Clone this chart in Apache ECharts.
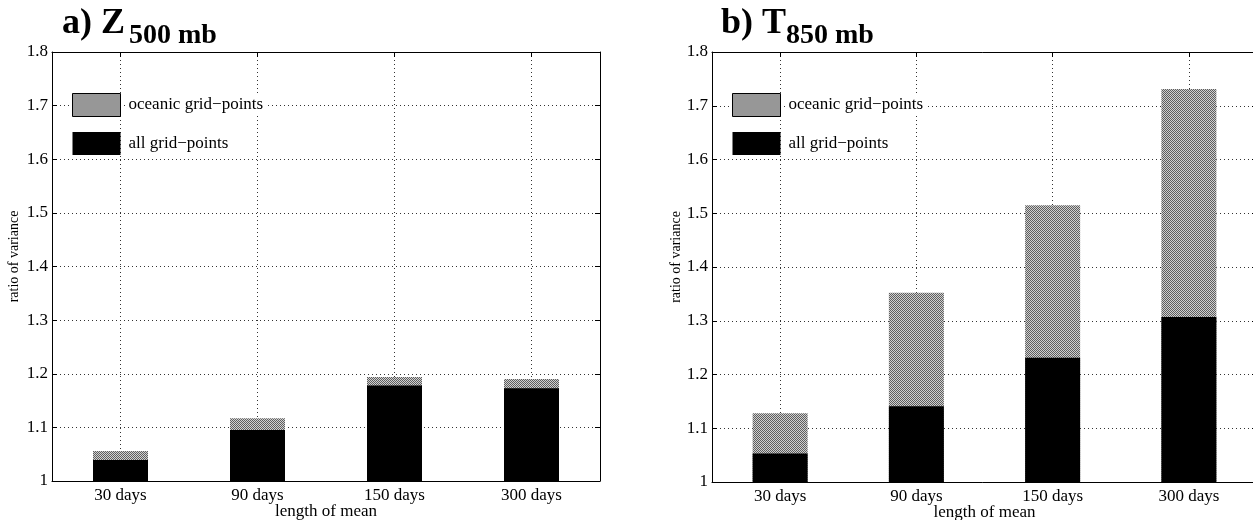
<!DOCTYPE html>
<html>
<head>
<meta charset="utf-8">
<script src="https://cdn.jsdelivr.net/npm/echarts@6/dist/echarts.min.js"></script>
<style>
  html, body { margin: 0; padding: 0; background: #fff; }
  #chart { width: 1253px; height: 520px; }
</style>
</head>
<body>
<div id="chart"></div>
<script>
// ---- data ----
const categories = ['30 days', '90 days', '150 days', '300 days'];
const z500All   = [1.039, 1.095, 1.178, 1.173];
const z500Ocean = [1.056, 1.117, 1.194, 1.190];
const t850All   = [1.053, 1.141, 1.231, 1.307];
const t850Ocean = [1.128, 1.352, 1.515, 1.731];
const yMin = 1, yMax = 1.8, yStep = 0.1;
const seriesNames = ['oceanic grid\u2212points', 'all grid\u2212points'];
const panelTitles = [['a) Z', '500 mb'], ['b) T', '850 mb']];
const axisNames = { x: 'length of mean', y: 'ratio of variance' };

// ---- halftone pattern ----
function makePattern() {
  const c = document.createElement('canvas');
  c.width = 4; c.height = 4;
  const ctx = c.getContext('2d');
  for (let i = 0; i < 4; i++) {
    for (let j = 0; j < 4; j++) {
      ctx.fillStyle = ((i + j) % 2 === 0) ? '#5e5e5e' : '#d0d0d0';
      ctx.fillRect(i, j, 1, 1);
    }
  }
  return { image: c, repeat: 'repeat' };
}
const grayPattern = makePattern();

const FONT = "'Liberation Serif', 'Times New Roman', serif";
const chart = echarts.init(document.getElementById('chart'), null, { renderer: 'canvas' });

const grids = [
  { left: 52, top: 52, width: 548, height: 429, outerBoundsMode: 'none', containLabel: false },
  { left: 712, top: 52, width: 545, height: 430, outerBoundsMode: 'none', containLabel: false }
];
const yNameGap = [31, 29];

const dotted = { color: '#333', width: 1, type: [1, 3] };

const xAxes = [], yAxes = [], series = [], legends = [], titles = [];
const panels = [[z500Ocean, z500All], [t850Ocean, t850All]];

grids.forEach((g, gi) => {
  xAxes.push({
    type: 'category', gridIndex: gi, data: categories, position: 'bottom',
    boundaryGap: true,
    axisLine: { show: true, lineStyle: { color: '#000', width: 1 } },
    axisTick: { show: true, inside: true, alignWithLabel: true, length: 5, lineStyle: { color: '#000' } },
    axisLabel: { color: '#000', fontFamily: FONT, fontSize: 17, margin: 6 },
    splitLine: { show: true, alignWithLabel: true, lineStyle: dotted },
    name: axisNames.x, nameLocation: 'middle', nameGap: 22, nameMoveOverlap: false,
    nameTextStyle: { color: '#000', fontFamily: FONT, fontSize: 17 }
  });
  xAxes.push({
    type: 'category', gridIndex: gi, data: categories, position: 'top',
    boundaryGap: true,
    axisLine: { show: true, lineStyle: { color: '#000', width: 1 } },
    axisTick: { show: true, inside: true, alignWithLabel: true, length: 5, lineStyle: { color: '#000' } },
    axisLabel: { show: false },
    splitLine: { show: false }
  });
  yAxes.push({
    type: 'value', gridIndex: gi, min: yMin, max: yMax, interval: yStep, position: 'left',
    axisLine: { show: true, lineStyle: { color: '#000', width: 1 } },
    axisTick: { show: true, inside: true, length: 5, lineStyle: { color: '#000' } },
    axisLabel: { color: '#000', fontFamily: FONT, fontSize: 17, margin: 4 },
    splitLine: { show: true, lineStyle: dotted },
    name: axisNames.y, nameLocation: 'middle', nameGap: yNameGap[gi], nameMoveOverlap: false,
    nameTextStyle: { color: '#000', fontFamily: FONT, fontSize: 14, padding: [0, 0, 0, 20] }
  });
  yAxes.push({
    type: 'value', gridIndex: gi, min: yMin, max: yMax, interval: yStep, position: 'right',
    axisLine: { show: true, lineStyle: { color: '#000', width: 1 } },
    axisTick: { show: true, inside: true, length: 5, lineStyle: { color: '#000' } },
    axisLabel: { show: false },
    splitLine: { show: false }
  });
  const xi = gi * 2, yi = gi * 2;
  series.push({
    type: 'bar', name: seriesNames[0], xAxisIndex: xi, yAxisIndex: yi,
    data: panels[gi][0], barWidth: 55, barGap: '-100%',
    itemStyle: { color: grayPattern }, z: 3, silent: true
  });
  series.push({
    type: 'bar', name: seriesNames[1], xAxisIndex: xi, yAxisIndex: yi,
    data: panels[gi][1], barWidth: 55, barGap: '-100%',
    itemStyle: { color: '#000' }, z: 3, silent: true
  });
  legends.push({
    left: g.left + 20, top: 93, orient: 'vertical', padding: 0,
    itemWidth: 48, itemHeight: 23, itemGap: 15, icon: 'rect',
    selectedMode: false, z: 5,
    data: [
      { name: seriesNames[0], itemStyle: { borderColor: '#000', borderWidth: 1 } },
      { name: seriesNames[1] }
    ],
    textStyle: { color: '#000', fontFamily: FONT, fontSize: 17, padding: [1, 2, 1, 3], backgroundColor: '#fff' }
  });
});

const titleLefts = [[62, 129], [721, 786]];
panelTitles.forEach((t, i) => {
  titles.push({
    text: t[0], left: titleLefts[i][0], top: 6, padding: 0,
    textStyle: { color: '#000', fontFamily: FONT, fontSize: 36, fontWeight: 'bold' }
  });
  titles.push({
    text: t[1], left: titleLefts[i][1], top: 22, padding: 0,
    textStyle: { color: '#000', fontFamily: FONT, fontSize: 28, fontWeight: 'bold' }
  });
});

chart.setOption({
  backgroundColor: '#fff',
  animation: false,
  title: titles,
  legend: legends,
  grid: grids,
  xAxis: xAxes,
  yAxis: yAxes,
  series: series
});
</script>
</body>
</html>
